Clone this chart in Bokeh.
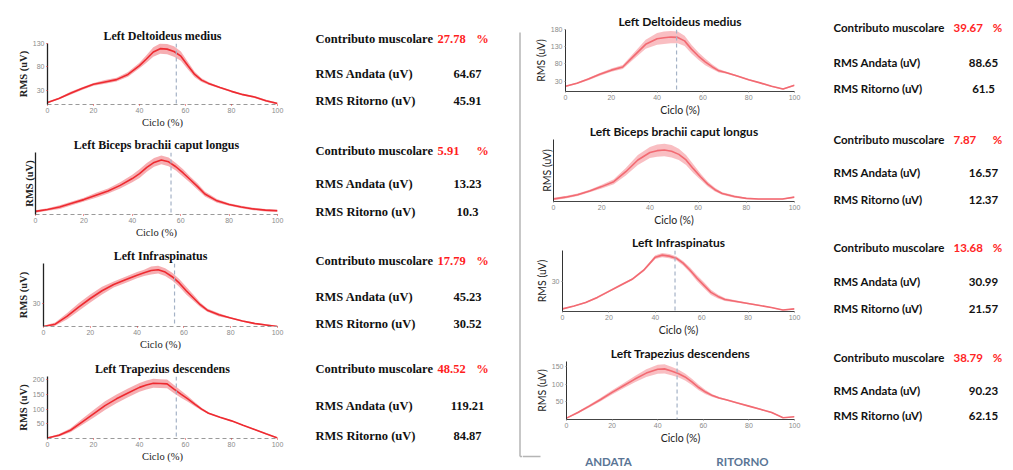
import numpy as np
from bokeh.plotting import figure
from bokeh.layouts import row, column
from bokeh.models import Range1d, FixedTicker, Span
from bokeh.core.properties import value
from bokeh.embed import file_html
from bokeh.resources import INLINE

# ---------------- data ----------------
CYCLE = [0, 5, 10, 15, 20, 25, 30, 35, 40, 43, 46, 49, 52, 55, 58, 61, 64, 67, 70, 75, 80, 85, 90, 95, 100]

MUSCLES = ["Left Deltoideus medius", "Left Biceps brachii caput longus",
           "Left Infraspinatus", "Left Trapezius descendens"]

# left block (mean RMS and band half-width)
L_DELT = [4, 13, 24, 34, 43, 48, 53, 64, 83, 97, 112, 119, 118, 113, 103, 83, 64, 52, 45, 36, 28, 21, 16, 8, 2]
L_DELT_SD = [2, 2, 3, 3, 3, 4, 4, 5, 6, 8, 10, 11, 11, 11, 10, 8, 6, 4, 3, 2, 2, 2, 2, 2, 2]
L_BIC = [5, 8, 12, 18, 24, 31, 38, 47, 58, 66, 76, 84, 88, 85, 77, 67, 56, 45, 33, 22, 16, 12, 9, 7, 6]
L_BIC_SD = [2, 2, 3, 3, 3, 4, 4, 5, 6, 7, 7, 7, 7, 7, 6, 6, 5, 5, 4, 3, 2, 2, 2, 2, 2]
L_INF = [0, 3, 13, 25, 36, 46, 54, 60, 66, 69, 72, 73, 70, 64, 56, 46, 37, 28, 21, 15, 11, 7, 4, 2, 0]
L_INF_SD = [1, 2, 4, 5, 5, 5, 4, 4, 4, 4, 5, 5, 5, 5, 5, 5, 4, 3, 2, 2, 1, 1, 1, 1, 1]
L_TRA = [2, 11, 28, 56, 84, 112, 135, 155, 174, 182, 188, 187, 186, 168, 151, 135, 117, 100, 86, 72, 60, 45, 31, 16, 2]
L_TRA_SD = [2, 4, 7, 10, 13, 15, 15, 15, 15, 15, 15, 15, 15, 14, 12, 10, 7, 5, 3, 2, 2, 2, 2, 2, 2]

# right block
R_DELT = [15, 24, 36, 50, 62, 71, 104, 137, 153, 156, 158, 157, 147, 123, 103, 86, 72, 60, 55, 45, 34, 25, 15, 7, 18]
R_DELT_SD = [2, 2, 3, 4, 5, 6, 9, 13, 17, 18, 18, 17, 15, 13, 11, 10, 7, 5, 3, 2, 2, 2, 2, 2, 2]
R_BIC = [4, 7, 11, 17, 24, 32, 48, 67, 79, 82, 83, 81, 76, 67, 53, 40, 28, 19, 13, 8, 5, 4, 4, 4, 7]
R_BIC_SD = [2, 2, 2, 2, 3, 4, 6, 8, 9, 10, 10, 10, 9, 8, 7, 5, 4, 3, 2, 2, 1, 1, 1, 1, 1]
R_INF = [2.6, 5.5, 9, 14, 20, 26, 32, 41, 54, 56, 55, 53, 48, 41, 33, 26, 19, 15, 12, 10, 8, 6, 4, 1.5, 2.6]
R_INF_SD = [0.5, 0.5, 0.8, 1, 1, 1, 1, 1.2, 1.8, 2, 2, 2, 2.2, 2.6, 3, 3, 2.5, 2, 1.5, 1, 0.8, 0.6, 0.5, 0.5, 0.5]
R_TRA = [4, 20, 38, 57, 77, 96, 115, 132, 143, 144, 138, 131, 121, 107, 91, 78, 68, 61, 56, 47, 38, 29, 20, 5, 8]
R_TRA_SD = [1, 3, 4, 5, 6, 7, 9, 11, 13, 13, 12, 11, 10, 9, 8, 6, 4, 3, 2, 2, 2, 2, 2, 1, 1]

CONTRIB_L = ["27.78", "5.91", "17.79", "48.52"]
RMS_AND_L = ["64.67", "13.23", "45.23", "119.21"]
RMS_RIT_L = ["45.91", "10.3", "30.52", "84.87"]
CONTRIB_R = ["39.67", "7.87", "13.68", "38.79"]
RMS_AND_R = ["88.65", "16.57", "30.99", "90.23"]
RMS_RIT_R = ["61.5", "12.37", "21.57", "62.15"]

YMAX_L = [130, 100, 81, 211]
YTICKS_L = [[30, 80, 130], [], [30], [50, 100, 150, 200]]
YMAX_R = [180, 100, 60.6, 165]
YTICKS_R = [[30, 80, 130, 180], [], [30], [50, 100, 150]]
XTICKS = [0, 20, 40, 60, 80, 100]
SPLIT_L = 56
SPLIT_R = 48.5

LABELS = ["Contributo muscolare", "RMS Andata (uV)", "RMS Ritorno (uV)"]
BOTTOM = ["ANDATA", "RITORNO"]

L_MEAN = [L_DELT, L_BIC, L_INF, L_TRA]
L_SD = [L_DELT_SD, L_BIC_SD, L_INF_SD, L_TRA_SD]
R_MEAN = [R_DELT, R_BIC, R_INF, R_TRA]
R_SD = [R_DELT_SD, R_BIC_SD, R_INF_SD, R_TRA_SD]

# ---------------- layout (page pixel coords) ----------------
L_ROWS = [(0, 130, 43, 105), (130, 240, 152, 216), (240, 352, 263, 327), (352, 470, 376, 438)]
L_FRAME_L = [47, 35, 43, 47]
R_ROWS = [(0, 118, 29, 92), (118, 228, 139, 202), (228, 338, 250, 313), (338, 446, 361, 424)]
R_FRAME_L = [565, 553, 562, 566]
L_TXT_Y = [(38, 73, 100), (150, 183, 211), (260, 296, 323), (368, 405, 435)]
R_TXT_Y = [(27, 62, 88), (139, 172, 199), (247, 281, 308), (357, 390, 415)]

SERIF = "Liberation Serif"
SANS = "Lato"


def blank(x0, x1, y0, y1):
    p = figure(width=x1 - x0, height=y1 - y0,
               x_range=Range1d(x0, x1), y_range=Range1d(y1, y0),
               x_axis_location=None, y_axis_location=None, title=None,
               min_border=0, min_border_left=0, min_border_right=0,
               min_border_top=0, min_border_bottom=0,
               toolbar_location=None, output_backend="svg")
    p.outline_line_color = None
    p.grid.visible = False
    return p


def chart(title, mean, sd, ymax, yticks, split, fx0, fx1, fy0, fy1, fl, fr, ft, fb,
          left_style, title_center):
    p = figure(width=fx1 - fx0, height=fy1 - fy0,
               x_range=Range1d(0, 100), y_range=Range1d(0, ymax),
               output_backend="svg", toolbar_location=None,
               min_border_left=fl - fx0, min_border_right=fx1 - fr,
               min_border_top=ft - fy0, min_border_bottom=fy1 - fb)
    p.outline_line_color = None
    p.grid.visible = False
    p.background_fill_color = "white"
    p.border_fill_color = "white"
    font = SERIF if left_style else SANS
    p.title.text = title
    p.title.align = "center"
    p.title.offset = title_center - (fl + fr) / 2
    p.title.standoff = 1
    p.title.text_font = font
    p.title.text_font_size = "12px"
    p.title.text_font_style = "bold"
    p.title.text_color = "#111111"

    m = np.array(mean, dtype=float)
    s = np.array(sd, dtype=float)
    band = "#f5a0a4" if left_style else "#f8b3b7"
    line = "#ee2a30" if left_style else "#f26a72"
    p.varea(x=CYCLE, y1=m - s, y2=m + s, fill_color=band, fill_alpha=0.85)
    p.line(x=CYCLE, y=mean, line_color=line, line_width=1.6)
    if split is not None:
        p.add_layout(Span(location=split, dimension="height", line_color="#a4b2c6",
                          line_dash="4 3", line_width=1.2))

    for ax in (p.xaxis[0], p.yaxis[0]):
        ax.major_label_text_font = "Liberation Sans"
        ax.major_label_text_font_size = "7px"
        ax.major_label_text_color = "#8a8a8a"
        ax.minor_tick_line_color = None
        ax.major_tick_in = 0
        ax.major_tick_out = 1
        ax.major_label_standoff = 2
        ax.axis_label_text_font = font
        ax.axis_label_text_font_size = "10.5px"
        ax.axis_label_text_font_style = "normal"
        ax.axis_label_text_color = "#222222"
        ax.axis_label_standoff = 1
    p.xaxis.ticker = FixedTicker(ticks=XTICKS)
    p.yaxis.ticker = FixedTicker(ticks=yticks)
    p.xaxis.axis_label = "Ciclo (%)"
    p.yaxis.axis_label = "RMS (uV)"
    if left_style:
        p.yaxis.axis_label_text_font_style = "bold"
        p.yaxis.axis_line_color = "#222222"
        p.yaxis.axis_line_width = 1.3
        p.xaxis.axis_line_color = "#9a9a9a"
        p.xaxis.axis_line_dash = "4 3"
        p.xaxis.axis_line_width = 1.2
        p.axis.major_tick_line_color = "#e03030"
    else:
        p.yaxis.axis_line_color = "#333333"
        p.xaxis.axis_line_color = "#444444"
        p.axis.major_tick_line_color = "#888888"
    return p


def text_panel(x0, x1, y0, y1, ys, contrib, rms_a, rms_r, left_style):
    p = blank(x0, x1, y0, y1)
    if left_style:
        font, size = SERIF, "12.5px"
        lab_x, red_x, pct_x, val_x = 315, 437, 482, 467
        red = "#ff1d1d"
    else:
        font, size = SANS, "11.5px"
        lab_x, red_x, pct_x, val_x = 833, 953, 997, 983
        red = "#ff2424"
    common = dict(text_font=value(font), text_font_size=value(size),
                  text_font_style="bold", text_baseline="middle")
    p.text(x=[lab_x] * 3, y=list(ys), text=LABELS, text_align="left",
           text_color="#111111", **common)
    p.text(x=[red_x], y=[ys[0]], text=[contrib], text_align="left", text_color=red, **common)
    p.text(x=[pct_x], y=[ys[0]], text=["%"], text_align="center", text_color=red, **common)
    p.text(x=[val_x, val_x], y=[ys[1], ys[2]], text=[rms_a, rms_r], text_align="center",
           text_color="#111111", **common)
    return p


def solo(fig):
    # wrap so that sibling plots do not get their frames aligned
    return column(fig, spacing=0)


left_rows = []
for i in range(4):
    fy0, fy1, ft, fb = L_ROWS[i]
    c = chart(MUSCLES[i], L_MEAN[i], L_SD[i], YMAX_L[i], YTICKS_L[i], SPLIT_L,
              0, 290, fy0, fy1, L_FRAME_L[i], 277, ft, fb, True, 154)
    t = text_panel(290, 518, fy0, fy1, L_TXT_Y[i], CONTRIB_L[i], RMS_AND_L[i], RMS_RIT_L[i], True)
    left_rows.append(row(solo(c), solo(t), spacing=0))
left_col = column(*left_rows, spacing=0)

right_rows = []
for i in range(4):
    fy0, fy1, ft, fb = R_ROWS[i]
    c = chart(MUSCLES[i], R_MEAN[i], R_SD[i], YMAX_R[i], YTICKS_R[i],
              None if i == 1 else SPLIT_R,
              522, 815, fy0, fy1, R_FRAME_L[i], 794, ft, fb, False, 673)
    t = text_panel(815, 1013, fy0, fy1, R_TXT_Y[i], CONTRIB_R[i], RMS_AND_R[i], RMS_RIT_R[i], False)
    right_rows.append(row(solo(c), solo(t), spacing=0))

strip = blank(522, 1013, 446, 470)
strip.text(x=[608, 742], y=[461, 461], text=BOTTOM, text_align="center", text_baseline="middle",
           text_font=value(SANS), text_font_size=value("11.5px"), text_font_style="bold",
           text_color="#5a7595")
strip.segment(x0=[522], y0=[456], x1=[540], y1=[456], line_color="#b5b5b5", line_width=1.5)
right_rows.append(solo(strip))
right_col = column(*right_rows, spacing=0)

sep = blank(518, 522, 0, 470)
sep.segment(x0=[519.5, 519.5], y0=[32, 456], x1=[519.5, 522], y1=[456, 456],
            line_color="#b5b5b5", line_width=1.5)

page = row(left_col, solo(sep), right_col, spacing=0)

open("out.html", "w").write(file_html(page, INLINE))
